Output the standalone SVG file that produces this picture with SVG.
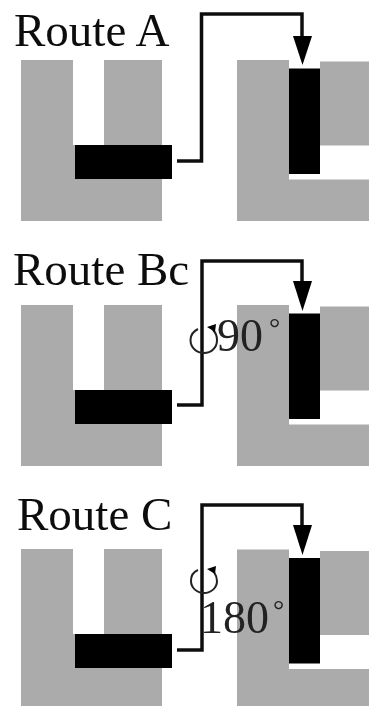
<svg xmlns="http://www.w3.org/2000/svg" width="369" height="706" viewBox="0 0 369 706">
<style>
.g{fill:#ababab}
.b{fill:#000}
.l{font-family:"Liberation Serif","Times New Roman",serif;font-size:47px;fill:#111}
.a{font-family:"Liberation Serif","Times New Roman",serif;font-size:46px;fill:#222}
.d{font-family:"Liberation Serif","Times New Roman",serif;font-size:28px;fill:#222}
.c{fill:none;stroke:#111;stroke-width:3.5;stroke-linejoin:miter}
.r{fill:none;stroke:#222;stroke-width:2}
</style>
<defs>
<filter id="s" x="-5%" y="-5%" width="110%" height="110%"><feGaussianBlur stdDeviation="0.6"/></filter>
<g id="leftDie"><path class="g" d="M21 0H73V85H104V0H162V161H21Z"/><rect class="b" x="75" y="85" width="97" height="34"/></g>
<g id="rightDie"><path class="g" d="M237 0H289V119.500H369V161H237Z"/><rect class="g" x="320" y="1.500" width="49" height="84"/><rect class="b" x="289" y="8.500" width="31" height="105.500"/></g>
</defs>
<g filter="url(#s)">
<g id="routeA">
<use href="#leftDie" y="60"/><use href="#rightDie" y="60"/>
<text class="l" x="14" y="46">Route A</text>
</g>
<g id="routeBc">
<use href="#leftDie" y="305"/><use href="#rightDie" y="305"/>
<text class="l" x="13" y="285">Route Bc</text>
<text class="a" x="217" y="351">90<tspan class="d" dx="6" dy="-14">°</tspan></text>
</g>
<g id="routeC">
<use href="#leftDie" y="549"/><use href="#rightDie" y="549.500"/>
<text class="l" x="17" y="530">Route C</text>
<text class="a" x="200" y="633">180<tspan class="d" dx="4" dy="-14">°</tspan></text>
</g>
<g id="connectors">
<path class="c" d="M177 161H201.500V14H302V40"/><path class="b" d="M293 36H312L302.500 65Z"/>
<path class="c" d="M177 405H202V261H302V285"/><path class="b" d="M293 281H312L302.500 311Z"/>
<path class="c" d="M177 650H202V505H302V530"/><path class="b" d="M293 525H312L302.500 555Z"/>
<path class="r" d="M198 329C192 332 190.500 336 190.500 340C190.500 348 197 353 204 353C211 353 217 348 217 340C217 336 216 333 213 330"/>
<path class="r" d="M198 570C193 572 191 576 191 581C191 588 197 593 204 593C211 593 217 588 217 581C217 577 216 575 214 572"/>
<path class="b" d="M207 327L216 324L215 332Z"/>
<path class="b" d="M207 569L216 566L215 574Z"/>
</g>
</g>
</svg>
